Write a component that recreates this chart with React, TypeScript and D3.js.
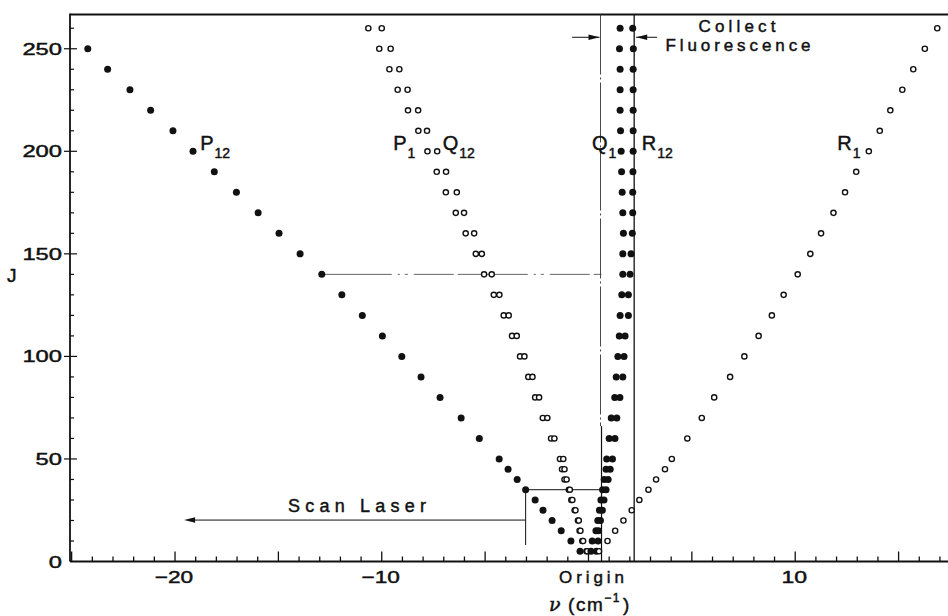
import React from "react";
import * as d3 from "d3";

// ---------- data ----------
const J_P12 = [250, 240, 230, 220, 210, 200, 190, 180, 170, 160, 150, 140, 130, 120, 110, 100, 90, 80, 70, 60, 50, 45, 40, 35, 30, 25, 20, 15, 10, 5];
const NU_P12 = [-24.22, -23.26, -22.18, -21.18, -20.1, -19.13, -18.1, -17.03, -15.98, -14.97, -13.95, -12.9, -11.93, -10.94, -9.97, -9.03, -8.1, -7.18, -6.16, -5.28, -4.32, -3.89, -3.45, -3.04, -2.58, -2.2, -1.76, -1.32, -0.85, -0.41];

const J_ALL = [260, 250, 240, 230, 220, 210, 200, 190, 180, 170, 160, 150, 140, 130, 120, 110, 100, 90, 80, 70, 60, 50, 45, 40, 35, 30, 25, 20, 15, 10, 5];
const NU_P1 = [-10.65, -10.12, -9.63, -9.23, -8.73, -8.23, -7.79, -7.34, -6.9, -6.42, -5.94, -5.45, -5.05, -4.58, -4.1, -3.7, -3.31, -2.91, -2.58, -2.21, -1.81, -1.38, -1.28, -1.16, -0.95, -0.83, -0.67, -0.51, -0.43, -0.3, -0.1];
const NU_Q12 = [-10.0, -9.57, -9.15, -8.75, -8.24, -7.81, -7.32, -6.89, -6.37, -6.02, -5.53, -5.16, -4.68, -4.31, -3.86, -3.47, -3.1, -2.71, -2.39, -1.99, -1.65, -1.22, -1.16, -1.06, -0.9, -0.78, -0.63, -0.47, -0.39, -0.26, -0.06];
const NU_Q1 = [1.53, 1.5, 1.53, 1.53, 1.53, 1.55, 1.58, 1.6, 1.63, 1.66, 1.69, 1.66, 1.66, 1.61, 1.53, 1.49, 1.42, 1.34, 1.27, 1.1, 1.0, 0.88, 0.85, 0.76, 0.68, 0.6, 0.53, 0.45, 0.36, 0.18, 0.12];
const NU_R12 = [2.14, 2.17, 2.16, 2.16, 2.16, 2.16, 2.16, 2.15, 2.14, 2.14, 2.12, 2.06, 2.01, 1.93, 1.93, 1.77, 1.72, 1.66, 1.52, 1.37, 1.28, 1.16, 1.05, 0.95, 0.85, 0.75, 0.67, 0.58, 0.48, 0.46, 0.38];
const NU_R1 = [16.87, 16.27, 15.71, 15.18, 14.6, 14.09, 13.56, 12.95, 12.41, 11.85, 11.25, 10.73, 10.12, 9.44, 8.87, 8.23, 7.54, 6.85, 6.08, 5.48, 4.78, 4.03, 3.7, 3.27, 2.9, 2.46, 2.09, 1.69, 1.29, 0.92, 0.51];

const Y_TICK_LABELS = [0, 50, 100, 150, 200, 250];
const X_TICK_LABELS = [
  { v: -20, t: "\u221220" },
  { v: -10, t: "\u221210" },
  { v: 0, t: "Origin" },
  { v: 10, t: "10" },
];

// annotation geometry in data units
const COLLECT_LEFT_NU = 0.63;
const COLLECT_RIGHT_NU = 2.21;
const COLLECT_ARROW_J = 255.6;
const SCAN_NU = -3.04;
const SCAN_TOP_J = 35;
const SCAN_BOTTOM_J = 8;
const SCAN_ARROW_J = 20.2;
const SCAN_ARROW_END_NU = -19.56;
const PUMP_J = 140;
const PUMP_START_NU = -12.9;

const BRANCH_LABELS = [
  { main: "P", sub: "12", nu: -18.78 },
  { main: "P", sub: "1", nu: -9.45 },
  { main: "Q", sub: "12", nu: -7.05 },
  { main: "Q", sub: "1", nu: 0.17 },
  { main: "R", sub: "12", nu: 2.58 },
  { main: "R", sub: "1", nu: 12.03 },
];
const LABEL_J = 200.6;

const FONT = "'Liberation Sans', Arial, Helvetica, sans-serif";
const INK = "#111";
const TXT = { fill: INK, stroke: INK, strokeWidth: 0.45 };

export default function App() {
  const W = 948;
  const H = 616;
  const x = d3.scaleLinear().domain([-25.08, 17.39]).range([70, 948]);
  const y = d3.scaleLinear().domain([0, 266.7]).range([561.5, 14.5]);

  const xMinor = d3.range(-25, 18, 1);
  const yMinor = d3.range(10, 261, 10);

  const filled = (js: number[], nus: number[], key: string) =>
    js.map((j, i) => (
      <circle key={key + i} cx={x(nus[i])} cy={y(j)} r={3.5} fill={INK} />
    ));
  const open = (js: number[], nus: number[], key: string) =>
    js.map((j, i) => (
      <circle key={key + i} cx={x(nus[i])} cy={y(j)} r={2.6} fill="white" stroke={INK} strokeWidth={1.4} />
    ));

  const arrowHead = (tipX: number, tipY: number, dir: number, key: string) => {
    const L = 11, hw = 2.8;
    const pts = [
      [tipX, tipY],
      [tipX - dir * L, tipY - hw],
      [tipX - dir * L, tipY + hw],
    ];
    return <polygon key={key} points={pts.map((p) => p.join(",")).join(" ")} fill={INK} />;
  };

  const yTop = y(266.7);
  const yBot = y(0);

  return (
    <svg width={W} height={H} style={{ position: "absolute", left: 0, top: 0, background: "white" }} fontFamily={FONT}>
      <rect x={0} y={0} width={W} height={H} fill="white" />

      {/* frame */}
      <line x1={x.range()[0]} x2={W} y1={yTop} y2={yTop} stroke={INK} strokeWidth={2} />
      <line x1={x.range()[0]} x2={x.range()[0]} y1={yTop - 1} y2={yBot} stroke={INK} strokeWidth={1.8} />
      <line x1={x.range()[0]} x2={W} y1={yBot} y2={yBot} stroke={INK} strokeWidth={2} />

      {/* x ticks */}
      {xMinor.map((v) => (
        <line key={"xt" + v} x1={x(v)} x2={x(v)} y1={yBot} y2={yBot - (v % 5 === 0 ? 10 : 5)} stroke={INK} strokeWidth={1.3} />
      ))}
      {/* y ticks */}
      {yMinor.map((v) => (
        <line key={"yt" + v} x1={v % 50 === 0 ? 64 : 70} x2={v % 50 === 0 ? 77 : 74} y1={y(v)} y2={y(v)} stroke={INK} strokeWidth={1.2} />
      ))}

      {/* tick labels */}
      {Y_TICK_LABELS.map((v) => {
        const t = String(v);
        return (
          <text key={"yl" + v} x={62} y={y(v) + 6} fontSize={17} textAnchor="end" {...TXT}
            textLength={t.length * 13.2} lengthAdjust="spacingAndGlyphs">{t}</text>
        );
      })}
      {X_TICK_LABELS.map((d) => (
        <text key={"xl" + d.v} x={x(d.v) + (d.v === 0 ? 3 : -1)} y={583} fontSize={17} textAnchor="middle" {...TXT}
          textLength={d.v === 0 ? 65 : d.t.length * 12.8} lengthAdjust={d.v === 0 ? "spacing" : "spacingAndGlyphs"}>{d.t}</text>
      ))}

      {/* axis titles */}
      <text x={7} y={282} fontSize={19} {...TXT}>J</text>
      <text x={549} y={611} fontSize={19} {...TXT} letterSpacing={1.5}>
        <tspan fontStyle="italic" fontFamily="'DejaVu Serif', serif">ν</tspan>
        <tspan dx={6}>(cm</tspan>
        <tspan dy={-9} fontSize={12}>−1</tspan>
        <tspan dy={9} dx={2}>)</tspan>
      </text>

      {/* collect fluorescence lines */}
      <line x1={x(COLLECT_LEFT_NU) - 1} x2={x(COLLECT_LEFT_NU) - 1} y1={yTop} y2={y(66)} stroke="#333" strokeWidth={0.9} strokeDasharray="60 3 2 3" />
      <line x1={x(COLLECT_LEFT_NU)} x2={x(COLLECT_LEFT_NU)} y1={y(66)} y2={yBot} stroke={INK} strokeWidth={1.2} />
      <line x1={x(COLLECT_RIGHT_NU)} x2={x(COLLECT_RIGHT_NU)} y1={yTop} y2={yBot} stroke={INK} strokeWidth={1.3} />
      <line x1={x(-0.79)} x2={x(COLLECT_LEFT_NU) - 2} y1={y(COLLECT_ARROW_J)} y2={y(COLLECT_ARROW_J)} stroke={INK} strokeWidth={1} />
      {arrowHead(x(COLLECT_LEFT_NU) - 2, y(COLLECT_ARROW_J), 1, "ah1")}
      <line x1={x(3.32)} x2={x(COLLECT_RIGHT_NU) + 2} y1={y(COLLECT_ARROW_J)} y2={y(COLLECT_ARROW_J)} stroke={INK} strokeWidth={1} />
      {arrowHead(x(COLLECT_RIGHT_NU) + 2, y(COLLECT_ARROW_J), -1, "ah2")}
      <text x={737} y={32} fontSize={17} textAnchor="middle" {...TXT} textLength={77} lengthAdjust="spacing">Collect</text>
      <text x={738} y={51} fontSize={17} textAnchor="middle" {...TXT} textLength={145} lengthAdjust="spacing">Fluorescence</text>

      {/* pump line at J=140 */}
      <line x1={x(PUMP_START_NU)} x2={x(COLLECT_LEFT_NU)} y1={y(PUMP_J)} y2={y(PUMP_J)} stroke="#555" strokeWidth={0.9} strokeDasharray="70 6 2 5 3 6 40 4" />

      {/* scan laser */}
      <line x1={x(SCAN_NU)} x2={x(COLLECT_LEFT_NU)} y1={y(SCAN_TOP_J)} y2={y(SCAN_TOP_J)} stroke={INK} strokeWidth={1} />
      <line x1={x(SCAN_NU)} x2={x(SCAN_NU)} y1={y(SCAN_TOP_J)} y2={y(SCAN_BOTTOM_J)} stroke={INK} strokeWidth={1} />
      <line x1={x(SCAN_NU)} x2={x(SCAN_ARROW_END_NU) + 8} y1={y(SCAN_ARROW_J)} y2={y(SCAN_ARROW_J)} stroke={INK} strokeWidth={1} />
      {arrowHead(x(SCAN_ARROW_END_NU), y(SCAN_ARROW_J), -1, "ah3")}
      <text x={288} y={512} fontSize={18} {...TXT} textLength={138} lengthAdjust="spacing">Scan  Laser</text>

      {/* data marks */}
      {filled(J_P12, NU_P12, "p12")}
      {open(J_ALL, NU_P1, "p1")}
      {open(J_ALL, NU_Q12, "q12")}
      {filled(J_ALL, NU_Q1, "q1")}
      {filled(J_ALL, NU_R12, "r12")}
      {open(J_ALL, NU_R1, "r1")}

      {/* branch labels */}
      {BRANCH_LABELS.map((b, i) => (
        <text key={"bl" + i} x={x(b.nu)} y={y(LABEL_J)} fontSize={20} {...TXT}>
          {b.main}
          <tspan fontSize={14} dx={1} dy={8}>{b.sub}</tspan>
        </text>
      ))}
    </svg>
  );
}
